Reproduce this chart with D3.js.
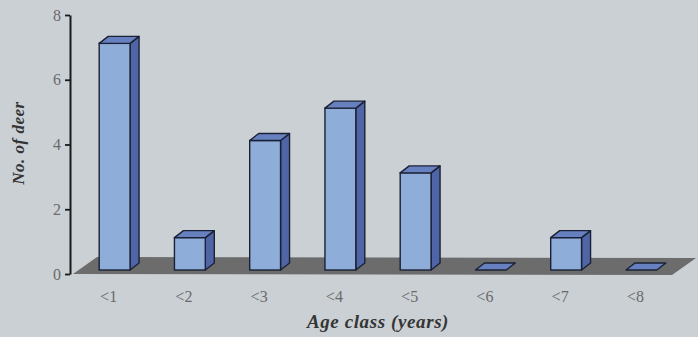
<!DOCTYPE html>
<html>
<head>
<meta charset="utf-8">
<script src="https://cdn.jsdelivr.net/npm/d3@7"></script>
<style>
  html, body { margin: 0; padding: 0; background: #cbd0d4; }
  svg { display: block; }
</style>
</head>
<body>
<svg id="chart" width="698" height="337"></svg>
<script>
// Age distribution of the deer sample
const categories = ["<1", "<2", "<3", "<4", "<5", "<6", "<7", "<8"];
const deerCounts = [7, 1, 4, 5, 3, 0, 1, 0];
const yTicks = [0, 2, 4, 6, 8];
const xTitle = "Age class (years)";
const yTitle = "No. of deer";

const svg = d3.select("#chart");
const serif = "'Liberation Serif', 'DejaVu Serif', serif";

const axisX = 70;
const y = d3.scaleLinear().domain([0, 8]).range([274, 15]);
const x = d3.scaleBand().domain(categories).range([71, 673])
  .paddingInner(0.59).paddingOuter(0.295);

// 3D depth offsets
const floorDepth = { dx: 24, dy: -17 };
const barFront = { dx: 6, dy: -4 };
const barDepth = { dx: 9, dy: -7 };

// floor
const fl = axisX + 3, fr = 672, fy = y(0);
svg.append("polygon")
  .attr("points", [
    [fl, fy], [fr, fy + 1],
    [fr + floorDepth.dx, fy + 1 + floorDepth.dy],
    [fl + floorDepth.dx, fy + floorDepth.dy]
  ].map(p => p.join(",")).join(" "))
  .attr("fill", "#6c6c6c");

// bars
const stroke = "#1b2135";
const bars = svg.append("g").selectAll("g")
  .data(categories.map((c, i) => ({ c, v: deerCounts[i] })))
  .join("g");

bars.each(function (d) {
  const g = d3.select(this);
  const w = x.bandwidth();
  const bx = x(d.c) + barFront.dx;
  const by = y(0) + barFront.dy;
  const h = y(0) - y(d.v);
  const top = by - h;
  const pts = a => a.map(p => p.join(",")).join(" ");
  if (d.v > 0) {
    g.append("polygon")
      .attr("points", pts([[bx + w, top], [bx + w + barDepth.dx, top + barDepth.dy],
        [bx + w + barDepth.dx, by + barDepth.dy], [bx + w, by]]))
      .attr("fill", "#4f65a6").attr("stroke", stroke).attr("stroke-width", 1.4)
      .attr("stroke-linejoin", "round");
    g.append("rect")
      .attr("x", bx).attr("y", top).attr("width", w).attr("height", h)
      .attr("fill", "#8fadd9").attr("stroke", stroke).attr("stroke-width", 1.4);
  }
  g.append("polygon")
    .attr("points", pts([[bx, top], [bx + barDepth.dx, top + barDepth.dy],
      [bx + w + barDepth.dx, top + barDepth.dy], [bx + w, top]]))
    .attr("fill", "#6680c0").attr("stroke", stroke).attr("stroke-width", 1.4)
    .attr("stroke-linejoin", "round");
});

// y axis
const yAxis = svg.append("g")
  .attr("transform", `translate(${axisX},0)`)
  .call(d3.axisLeft(y).tickValues(yTicks).tickSize(5).tickPadding(4).tickSizeOuter(0));
yAxis.select(".domain").attr("stroke", "#1a1a1a").attr("stroke-width", 2);
yAxis.selectAll(".tick line").attr("stroke", "#1a1a1a").attr("stroke-width", 1.8);
yAxis.selectAll(".tick text")
  .attr("fill", "#6a6a6a").attr("font-family", serif).attr("font-size", 16);

// category labels
svg.append("g").selectAll("text")
  .data(categories)
  .join("text")
  .attr("x", d => x(d) + x.bandwidth() / 2)
  .attr("y", 302)
  .attr("text-anchor", "middle")
  .attr("fill", "#6a6a6a")
  .attr("font-family", serif)
  .attr("font-size", 16)
  .text(d => d);

// axis titles
svg.append("text")
  .attr("x", 378).attr("y", 328)
  .attr("text-anchor", "middle")
  .attr("fill", "#353535")
  .attr("font-family", serif)
  .attr("font-size", 19)
  .attr("letter-spacing", 0.6)
  .attr("font-weight", "bold")
  .attr("font-style", "italic")
  .text(xTitle);

svg.append("text")
  .attr("transform", "translate(24,143) rotate(-90)")
  .attr("text-anchor", "middle")
  .attr("fill", "#353535")
  .attr("font-family", serif)
  .attr("font-size", 17)
  .attr("letter-spacing", 0.5)
  .attr("font-weight", "bold")
  .attr("font-style", "italic")
  .text(yTitle);
</script>
</body>
</html>
